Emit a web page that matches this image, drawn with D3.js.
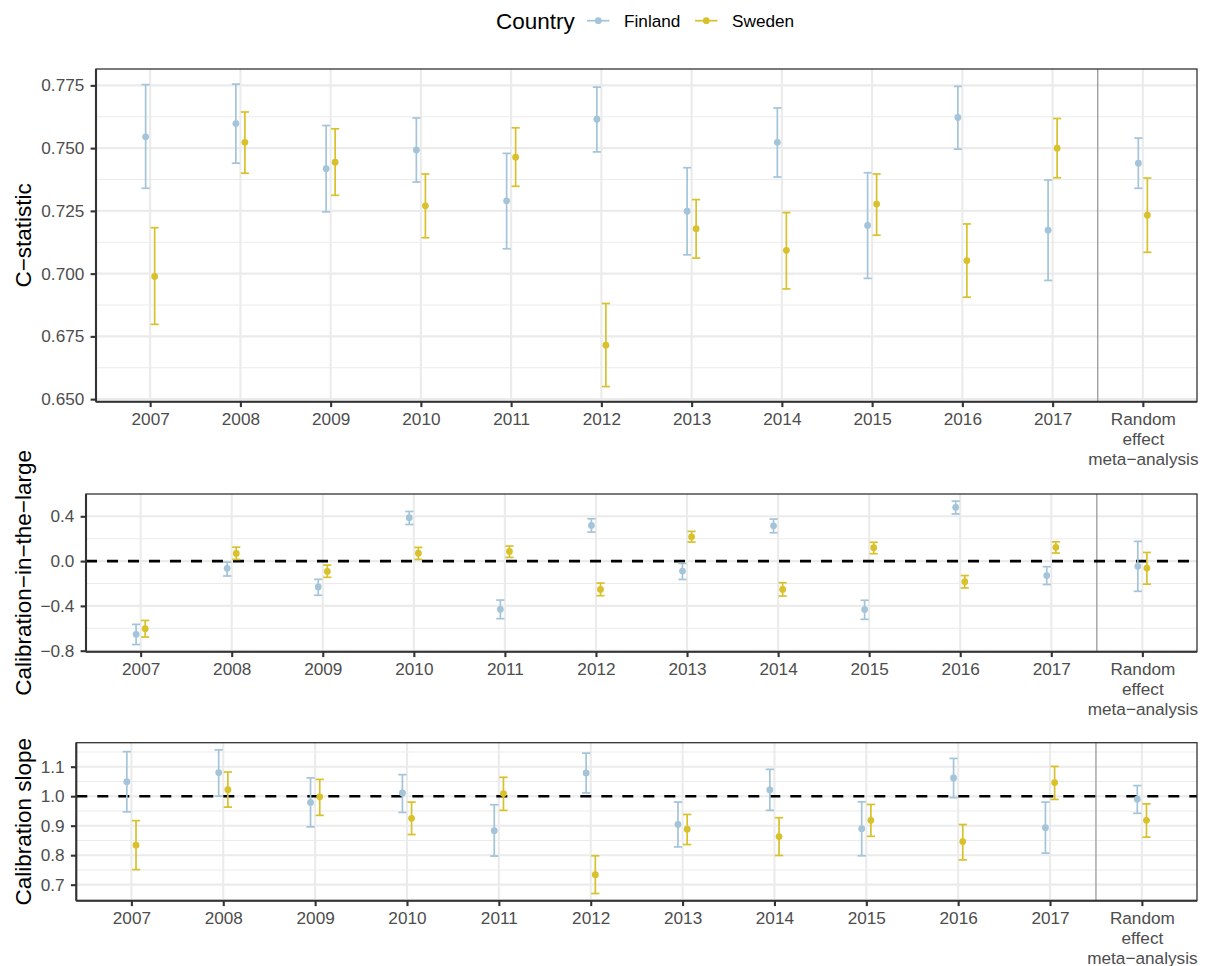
<!DOCTYPE html>
<html>
<head>
<meta charset="utf-8">
<script src="https://cdn.jsdelivr.net/npm/d3@7"></script>
<style>
  html, body { margin: 0; padding: 0; background: #ffffff; }
  svg { display: block; font-family: "Liberation Sans", Arial, Helvetica, sans-serif; }
</style>
</head>
<body>
<svg id="chart" width="1205" height="966"></svg>
<script>
// Validation years plus the pooled estimate
const categories = ["2007", "2008", "2009", "2010", "2011", "2012", "2013", "2014", "2015", "2016", "2017",
  "Random\neffect\nmeta\u2212analysis"];
const countries = ["Finland", "Sweden"];
const countryColors = ["#a3c4d9", "#d8c12b"];

// Each entry: [estimate, lower 95% CI, upper 95% CI]
const cstatFinland = [
  [0.7545, 0.7340, 0.7753], [0.7598, 0.7440, 0.7755], [0.7418, 0.7246, 0.7590],
  [0.7493, 0.7365, 0.7620], [0.7290, 0.7099, 0.7479], [0.7615, 0.7485, 0.7743],
  [0.7249, 0.7075, 0.7422], [0.7523, 0.7385, 0.7660], [0.7192, 0.6981, 0.7402],
  [0.7622, 0.7496, 0.7746], [0.7173, 0.6973, 0.7373], [0.7440, 0.7340, 0.7540]];
const cstatSweden = [
  [0.6989, 0.6798, 0.7183], [0.7523, 0.7400, 0.7644], [0.7444, 0.7312, 0.7577],
  [0.7270, 0.7143, 0.7397], [0.7464, 0.7348, 0.7581], [0.6715, 0.6550, 0.6881],
  [0.7179, 0.7062, 0.7295], [0.7093, 0.6939, 0.7243], [0.7277, 0.7153, 0.7397],
  [0.7052, 0.6906, 0.7198], [0.7500, 0.7382, 0.7618], [0.7233, 0.7085, 0.7381]];

const citlFinland = [
  [-0.654, -0.745, -0.565], [-0.065, -0.133, -0.009], [-0.231, -0.305, -0.163],
  [0.387, 0.327, 0.443], [-0.431, -0.514, -0.348], [0.318, 0.259, 0.378],
  [-0.089, -0.164, -0.021], [0.315, 0.253, 0.375], [-0.433, -0.520, -0.350],
  [0.480, 0.421, 0.535], [-0.129, -0.209, -0.050], [-0.047, -0.270, 0.176]];
const citlSweden = [
  [-0.604, -0.678, -0.530], [0.068, 0.015, 0.124], [-0.092, -0.145, -0.036],
  [0.071, 0.015, 0.122], [0.086, 0.033, 0.134], [-0.253, -0.309, -0.196],
  [0.217, 0.170, 0.265], [-0.253, -0.312, -0.193], [0.120, 0.066, 0.168],
  [-0.184, -0.240, -0.129], [0.123, 0.072, 0.172], [-0.062, -0.206, 0.077]];

const slopeFinland = [
  [1.049, 0.947, 1.151], [1.080, 1.000, 1.157], [0.979, 0.896, 1.062],
  [1.011, 0.945, 1.073], [0.883, 0.797, 0.971], [1.079, 1.011, 1.146],
  [0.904, 0.828, 0.980], [1.021, 0.952, 1.091], [0.890, 0.798, 0.981],
  [1.062, 0.995, 1.128], [0.893, 0.807, 0.980], [0.990, 0.942, 1.036]];
const slopeSweden = [
  [0.834, 0.751, 0.917], [1.022, 0.963, 1.082], [0.998, 0.935, 1.057],
  [0.925, 0.870, 0.980], [1.009, 0.952, 1.064], [0.734, 0.670, 0.798],
  [0.888, 0.836, 0.938], [0.863, 0.799, 0.927], [0.918, 0.864, 0.972],
  [0.846, 0.784, 0.904], [1.046, 0.989, 1.101], [0.918, 0.861, 0.974]];

// Axis tick values
const cstatTicks = [0.650, 0.675, 0.700, 0.725, 0.750, 0.775];
const citlTicks = [-0.8, -0.4, 0.0, 0.4];
const slopeTicks = [0.7, 0.8, 0.9, 1.0, 1.1];

const panels = [
  { title: "C\u2212statistic", series: [cstatFinland, cstatSweden], ticks: cstatTicks, fmt: ".3f",
    ref: null, left: 96, right: 1197, top: 69, bottom: 401.7 },
  { title: "Calibration\u2212in\u2212the\u2212large", series: [citlFinland, citlSweden], ticks: citlTicks, fmt: ".1f",
    ref: 0, left: 86, right: 1197, top: 494, bottom: 651.7 },
  { title: "Calibration slope", series: [slopeFinland, slopeSweden], ticks: slopeTicks, fmt: ".1f",
    ref: 1, left: 76.3, right: 1197, top: 742.7, bottom: 900.7 }
];

const svg = d3.select("#chart");
const tickFont = 17.2, titleFont = 22.5;
const gridColor = "#ebebeb", frameColor = "#333333", tickTextColor = "#4d4d4d";
const minusFmt = f => v => d3.format(f)(v).replace("-", "\u2212");

panels.forEach(p => {
  const g = svg.append("g");
  const x = d3.scalePoint().domain(categories).range([p.left, p.right]).padding(0.6);
  const step = x.step();

  // y domain: data extent with 5% expansion on each side
  const all = p.series.flatMap(s => s.flatMap(d => [d[1], d[2]]));
  const [lo, hi] = d3.extent(all);
  const pad = (hi - lo) * 0.05;
  const y = d3.scaleLinear().domain([lo - pad, hi + pad]).range([p.bottom, p.top]);

  // background
  g.append("rect").attr("x", p.left).attr("y", p.top)
    .attr("width", p.right - p.left).attr("height", p.bottom - p.top).attr("fill", "#fff");

  // minor horizontal grid (midpoints between major ticks)
  const tstep = p.ticks[1] - p.ticks[0];
  const minor = [p.ticks[0] - tstep / 2, ...p.ticks.map(t => t + tstep / 2)]
    .filter(v => v > y.domain()[0] && v < y.domain()[1]);
  g.selectAll(".minor").data(minor).join("line")
    .attr("x1", p.left).attr("x2", p.right)
    .attr("y1", d => y(d)).attr("y2", d => y(d))
    .attr("stroke", gridColor).attr("stroke-width", 1.05);
  // major grid
  g.selectAll(".majorY").data(p.ticks).join("line")
    .attr("x1", p.left).attr("x2", p.right)
    .attr("y1", d => y(d)).attr("y2", d => y(d))
    .attr("stroke", gridColor).attr("stroke-width", 2.1);
  g.selectAll(".majorX").data(categories).join("line")
    .attr("x1", d => x(d)).attr("x2", d => x(d))
    .attr("y1", p.top).attr("y2", p.bottom)
    .attr("stroke", gridColor).attr("stroke-width", 2.1);

  // separator between yearly estimates and pooled estimate
  const sepX = (x(categories[10]) + x(categories[11])) / 2;
  g.append("line").attr("x1", sepX).attr("x2", sepX).attr("y1", p.top).attr("y2", p.bottom)
    .attr("stroke", "#9a9a9a").attr("stroke-width", 1.3);

  // reference line
  if (p.ref !== null) {
    g.append("line").attr("x1", p.left).attr("x2", p.right)
      .attr("y1", y(p.ref)).attr("y2", y(p.ref))
      .attr("stroke", "#000").attr("stroke-width", 2.6).attr("stroke-dasharray", "11,10");
  }

  // error bars and point estimates, dodged per country
  p.series.forEach((s, si) => {
    const off = (si === 0 ? -0.05 : 0.05) * step;
    const col = countryColors[si];
    const cap = 0.045 * step;
    const eg = g.append("g");
    s.forEach((d, i) => {
      const cx = x(categories[i]) + off;
      eg.append("line").attr("x1", cx).attr("x2", cx).attr("y1", y(d[1])).attr("y2", y(d[2]))
        .attr("stroke", col).attr("stroke-width", 1.7);
      eg.append("line").attr("x1", cx - cap).attr("x2", cx + cap).attr("y1", y(d[1])).attr("y2", y(d[1]))
        .attr("stroke", col).attr("stroke-width", 1.7);
      eg.append("line").attr("x1", cx - cap).attr("x2", cx + cap).attr("y1", y(d[2])).attr("y2", y(d[2]))
        .attr("stroke", col).attr("stroke-width", 1.7);
    });
  });
  p.series.forEach((s, si) => {
    const off = (si === 0 ? -0.05 : 0.05) * step;
    g.append("g").selectAll("circle").data(s).join("circle")
      .attr("cx", (d, i) => x(categories[i]) + off)
      .attr("cy", d => y(d[0]))
      .attr("r", 3.4)
      .attr("fill", countryColors[si]);
  });

  // panel frame
  g.append("rect").attr("x", p.left).attr("y", p.top)
    .attr("width", p.right - p.left).attr("height", p.bottom - p.top)
    .attr("fill", "none").attr("stroke", frameColor).attr("stroke-width", 1.3);

  // y axis
  const ya = g.append("g").attr("transform", `translate(${p.left},0)`)
    .call(d3.axisLeft(y).tickValues(p.ticks).tickSize(5.4).tickPadding(6.3).tickFormat(minusFmt(p.fmt)));
  ya.select(".domain").attr("stroke", frameColor).attr("stroke-width", 2.1)
    .attr("d", `M0,${p.top}V${p.bottom}`);
  ya.selectAll(".tick line").attr("stroke", frameColor).attr("stroke-width", 2.1);
  ya.selectAll(".tick text").attr("fill", tickTextColor)
    .style("font-size", tickFont + "px").style("font-family", "Liberation Sans, Arial, sans-serif");

  // x axis
  const xa = g.append("g").attr("transform", `translate(0,${p.bottom})`)
    .call(d3.axisBottom(x).tickSize(5.4).tickPadding(6));
  xa.select(".domain").attr("stroke", frameColor).attr("stroke-width", 2.1)
    .attr("d", `M${p.left},0H${p.right}`);
  xa.selectAll(".tick line").attr("stroke", frameColor).attr("stroke-width", 2.1);
  xa.selectAll(".tick text").each(function(d) {
    const t = d3.select(this);
    t.text(null).attr("y", null).attr("dy", null)
      .attr("fill", tickTextColor)
      .style("font-size", tickFont + "px").style("font-family", "Liberation Sans, Arial, sans-serif");
    d.split("\n").forEach((line, li) => {
      t.append("tspan").attr("x", 0).attr("y", 23.8 + li * 20).text(line);
    });
  });

  // y axis title
  const cy = (p.top + p.bottom) / 2;
  g.append("text")
    .attr("transform", `translate(30.5,${cy}) rotate(-90)`)
    .attr("text-anchor", "middle")
    .attr("fill", "#000")
    .style("font-size", titleFont + "px")
    .text(p.title);
});

// legend
const legend = svg.append("g");
legend.append("text").attr("x", 496).attr("y", 28.6)
  .style("font-size", titleFont + "px").attr("fill", "#000").text("Country");
const keyX = [587, 695], labelX = [624, 732];
countries.forEach((c, i) => {
  legend.append("line").attr("x1", keyX[i]).attr("x2", keyX[i] + 22.5)
    .attr("y1", 20.7).attr("y2", 20.7).attr("stroke", countryColors[i]).attr("stroke-width", 1.7);
  legend.append("circle").attr("cx", keyX[i] + 11.3).attr("cy", 20.7).attr("r", 3.4)
    .attr("fill", countryColors[i]);
  legend.append("text").attr("x", labelX[i]).attr("y", 27)
    .style("font-size", tickFont + "px").attr("fill", "#000").text(c);
});
</script>
</body>
</html>
